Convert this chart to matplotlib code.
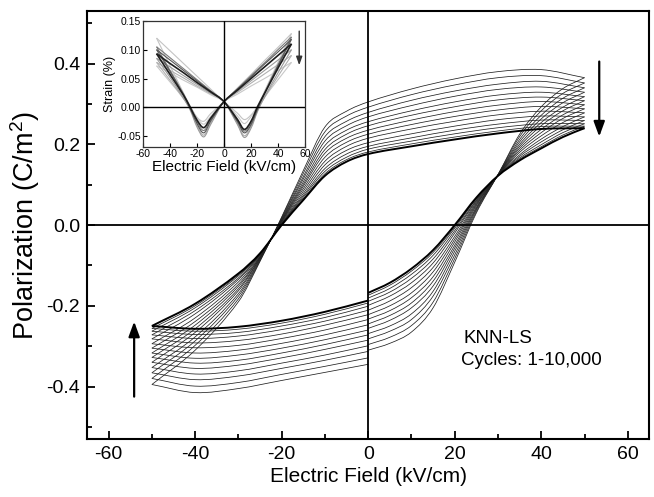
import numpy as np
import matplotlib
matplotlib.use('Agg')
import matplotlib.pyplot as plt
from matplotlib.path import Path
from matplotlib.patches import PathPatch
from matplotlib.ticker import MultipleLocator, FormatStrFormatter

plt.rcParams['font.family'] = ['Liberation Sans', 'DejaVu Sans']
plt.rcParams['axes.unicode_minus'] = False
plt.rcParams['mathtext.fontset'] = 'custom'
plt.rcParams['mathtext.rm'] = 'Liberation Sans'

# P-E loops, cycle 1 (outermost) to cycle 10,000 (innermost)
# upper branch, field going down from +50 to -50 kV/cm
e_upper = [50, 40, 30, 20, 10, 0, -5, -10, -15, -20, -25, -30, -40, -50]
p_upper = [
    [0.365, 0.385, 0.380, 0.362, 0.337, 0.305, 0.282, 0.243, 0.135, 0.020, -0.090, -0.190, -0.310, -0.395],
    [0.352, 0.370, 0.365, 0.347, 0.323, 0.292, 0.270, 0.231, 0.128, 0.018, -0.088, -0.183, -0.298, -0.380],
    [0.340, 0.356, 0.349, 0.332, 0.309, 0.279, 0.257, 0.219, 0.120, 0.016, -0.086, -0.176, -0.287, -0.366],
    [0.329, 0.342, 0.336, 0.319, 0.296, 0.268, 0.246, 0.208, 0.114, 0.014, -0.084, -0.170, -0.277, -0.353],
    [0.318, 0.329, 0.322, 0.305, 0.283, 0.256, 0.235, 0.197, 0.107, 0.012, -0.082, -0.163, -0.266, -0.340],
    [0.308, 0.317, 0.310, 0.293, 0.272, 0.246, 0.225, 0.187, 0.101, 0.011, -0.081, -0.158, -0.257, -0.328],
    [0.298, 0.306, 0.297, 0.281, 0.260, 0.235, 0.215, 0.178, 0.096, 0.009, -0.079, -0.152, -0.248, -0.317],
    [0.288, 0.294, 0.285, 0.269, 0.249, 0.225, 0.205, 0.168, 0.090, 0.008, -0.078, -0.147, -0.239, -0.305],
    [0.278, 0.282, 0.273, 0.257, 0.238, 0.215, 0.195, 0.158, 0.084, 0.006, -0.076, -0.141, -0.230, -0.294],
    [0.268, 0.270, 0.261, 0.245, 0.226, 0.204, 0.185, 0.149, 0.078, 0.004, -0.074, -0.135, -0.220, -0.282],
    [0.259, 0.260, 0.250, 0.235, 0.216, 0.195, 0.176, 0.140, 0.073, 0.003, -0.073, -0.131, -0.212, -0.272],
    [0.251, 0.251, 0.241, 0.226, 0.208, 0.188, 0.168, 0.133, 0.069, 0.002, -0.072, -0.126, -0.205, -0.263],
    [0.245, 0.244, 0.233, 0.218, 0.201, 0.181, 0.162, 0.127, 0.065, 0.001, -0.071, -0.123, -0.200, -0.256],
    [0.240, 0.238, 0.227, 0.212, 0.195, 0.176, 0.157, 0.122, 0.062, 0.000, -0.070, -0.120, -0.195, -0.250],
]
# lower branch, -50 up to 0 (end of each cycle)
e_lower_left = [-50, -40, -30, -20, -10, 0]
p_lower_left = [
    [-0.395, -0.415, -0.405, -0.385, -0.365, -0.345],
    [-0.380, -0.399, -0.390, -0.370, -0.350, -0.329],
    [-0.366, -0.383, -0.374, -0.355, -0.335, -0.313],
    [-0.353, -0.369, -0.361, -0.342, -0.322, -0.299],
    [-0.340, -0.355, -0.347, -0.329, -0.308, -0.285],
    [-0.328, -0.342, -0.335, -0.317, -0.296, -0.272],
    [-0.317, -0.330, -0.322, -0.305, -0.284, -0.260],
    [-0.305, -0.317, -0.310, -0.293, -0.272, -0.247],
    [-0.294, -0.304, -0.298, -0.281, -0.260, -0.234],
    [-0.282, -0.292, -0.286, -0.270, -0.248, -0.222],
    [-0.272, -0.281, -0.275, -0.259, -0.238, -0.211],
    [-0.263, -0.271, -0.266, -0.250, -0.229, -0.201],
    [-0.256, -0.263, -0.258, -0.243, -0.221, -0.193],
    [-0.250, -0.257, -0.252, -0.237, -0.215, -0.187],
]
# lower branch, 0 up to +50 (start of each cycle)
e_lower_right = [0, 5, 10, 15, 20, 25, 30, 35, 40, 45, 50]
p_lower_right = [
    [-0.310, -0.293, -0.265, -0.205, -0.092, 0.030, 0.125, 0.225, 0.293, 0.338, 0.365],
    [-0.296, -0.278, -0.249, -0.191, -0.083, 0.034, 0.125, 0.219, 0.283, 0.326, 0.352],
    [-0.282, -0.263, -0.234, -0.176, -0.074, 0.038, 0.124, 0.212, 0.272, 0.314, 0.340],
    [-0.269, -0.250, -0.220, -0.164, -0.065, 0.041, 0.124, 0.206, 0.263, 0.303, 0.329],
    [-0.256, -0.236, -0.205, -0.151, -0.057, 0.044, 0.124, 0.200, 0.254, 0.292, 0.318],
    [-0.245, -0.224, -0.193, -0.139, -0.050, 0.048, 0.124, 0.195, 0.246, 0.283, 0.308],
    [-0.233, -0.212, -0.180, -0.128, -0.042, 0.051, 0.123, 0.190, 0.237, 0.273, 0.298],
    [-0.222, -0.200, -0.168, -0.116, -0.035, 0.054, 0.123, 0.185, 0.229, 0.264, 0.288],
    [-0.211, -0.188, -0.155, -0.105, -0.028, 0.057, 0.123, 0.180, 0.221, 0.254, 0.278],
    [-0.199, -0.176, -0.143, -0.094, -0.020, 0.060, 0.123, 0.174, 0.213, 0.244, 0.268],
    [-0.189, -0.166, -0.132, -0.084, -0.014, 0.062, 0.122, 0.170, 0.206, 0.236, 0.259],
    [-0.181, -0.157, -0.122, -0.075, -0.008, 0.065, 0.122, 0.166, 0.199, 0.229, 0.251],
    [-0.174, -0.149, -0.114, -0.068, -0.004, 0.067, 0.122, 0.163, 0.194, 0.223, 0.245],
    [-0.168, -0.143, -0.108, -0.062, 0.000, 0.068, 0.122, 0.160, 0.190, 0.218, 0.240],
]

# inset: strain butterfly loops
e_rise = [-50, -40, -30, -20, -10, 0, 10, 15, 20, 25, 30, 40, 50]
e_fall = [50, 40, 30, 20, 10, 0, -10, -15, -20, -25, -30, -40, -50]
s_rise = [
    [0.120, 0.098, 0.076, 0.054, 0.032, 0.010, -0.010, -0.021, -0.013, 0.003, 0.028, 0.078, 0.128],
    [0.072, 0.060, 0.047, 0.035, 0.022, 0.010, -0.015, -0.028, -0.016, 0.002, 0.018, 0.048, 0.078],
    [0.078, 0.064, 0.051, 0.037, 0.024, 0.010, -0.028, -0.049, -0.033, -0.004, 0.017, 0.054, 0.090],
    [0.085, 0.070, 0.055, 0.040, 0.025, 0.010, -0.030, -0.052, -0.036, -0.006, 0.018, 0.060, 0.100],
    [0.105, 0.086, 0.067, 0.048, 0.029, 0.010, -0.023, -0.041, -0.027, 0.000, 0.025, 0.074, 0.122],
    [0.100, 0.082, 0.064, 0.046, 0.028, 0.010, -0.025, -0.044, -0.030, -0.002, 0.024, 0.072, 0.118],
    [0.093, 0.076, 0.060, 0.043, 0.027, 0.010, -0.021, -0.038, -0.024, 0.002, 0.024, 0.068, 0.110],
]
s_fall = [
    [0.128, 0.104, 0.081, 0.057, 0.034, 0.010, -0.011, -0.024, -0.017, 0.002, 0.025, 0.072, 0.120],
    [0.078, 0.064, 0.050, 0.037, 0.023, 0.010, -0.016, -0.029, -0.018, 0.001, 0.016, 0.044, 0.072],
    [0.090, 0.074, 0.058, 0.042, 0.026, 0.010, -0.027, -0.048, -0.031, -0.003, 0.015, 0.047, 0.078],
    [0.100, 0.082, 0.064, 0.046, 0.028, 0.010, -0.030, -0.051, -0.034, -0.005, 0.016, 0.052, 0.085],
    [0.122, 0.100, 0.077, 0.055, 0.032, 0.010, -0.022, -0.040, -0.025, 0.000, 0.023, 0.064, 0.105],
    [0.118, 0.096, 0.075, 0.053, 0.032, 0.010, -0.024, -0.044, -0.028, -0.002, 0.022, 0.062, 0.100],
    [0.110, 0.090, 0.070, 0.050, 0.030, 0.010, -0.019, -0.035, -0.022, 0.000, 0.021, 0.057, 0.093],
]
inset_colors = ['#c4c4c4', '#c8c8c8', '#b0b0b0', '#9a9a9a', '#7a7a7a', '#555555', '#1e1e1e']


def smooth_curve(ax, xs, ys, **kw):
    # cubic Bezier through the read points, drawn in data coordinates
    xs = np.asarray(xs, float)
    ys = np.asarray(ys, float)
    n = len(xs)
    m = np.empty(n)
    m[1:-1] = (ys[2:] - ys[:-2]) / (xs[2:] - xs[:-2])
    m[0] = (ys[1] - ys[0]) / (xs[1] - xs[0])
    m[-1] = (ys[-1] - ys[-2]) / (xs[-1] - xs[-2])
    verts = [(xs[0], ys[0])]
    codes = [Path.MOVETO]
    for i in range(n - 1):
        h = xs[i + 1] - xs[i]
        verts += [(xs[i] + h / 3, ys[i] + m[i] * h / 3),
                  (xs[i + 1] - h / 3, ys[i + 1] - m[i + 1] * h / 3),
                  (xs[i + 1], ys[i + 1])]
        codes += [Path.CURVE4] * 3
    ax.add_patch(PathPatch(Path(verts, codes), fill=False, **kw))


fig = plt.figure(figsize=(6.54, 4.97), dpi=100)
ax = fig.add_axes([0.133, 0.1167, 0.860, 0.861])

n_loops = len(p_upper)
for k in range(n_loops):
    lw = 1.4 if k == n_loops - 1 else 0.55
    col = 'black' if k == n_loops - 1 else '#202020'
    smooth_curve(ax, e_upper, p_upper[k], lw=lw, edgecolor=col)
    smooth_curve(ax, e_lower_left, p_lower_left[k], lw=lw, edgecolor=col)
    smooth_curve(ax, e_lower_right, p_lower_right[k], lw=lw, edgecolor=col)

ax.axhline(0, color='black', lw=1.3, zorder=3)
ax.axvline(0, color='black', lw=1.3, zorder=3)

ax.set_xlim(-65, 65)
ax.set_ylim(-0.53, 0.53)
ax.xaxis.set_major_locator(MultipleLocator(20))
ax.xaxis.set_minor_locator(MultipleLocator(10))
ax.yaxis.set_major_locator(MultipleLocator(0.2))
ax.yaxis.set_minor_locator(MultipleLocator(0.1))
ax.yaxis.set_major_formatter(FormatStrFormatter('%.1f'))
ax.tick_params(which='both', direction='in', labelsize=14, width=1.3)
ax.tick_params(which='major', length=6, pad=5)
ax.tick_params(which='minor', length=3.5)
for s in ax.spines.values():
    s.set_linewidth(1.5)
ax.set_xlabel('Electric Field (kV/cm)', fontsize=15, labelpad=3)
ax.set_ylabel('Polarization (C/m$^2$)', fontsize=19.5, labelpad=3)

ax.annotate('', xy=(53.4, 0.219), xytext=(53.4, 0.405),
            arrowprops=dict(arrowstyle='-|>,head_length=0.6,head_width=0.22',
                            color='black', lw=1.6, mutation_scale=15,
                            shrinkA=0, shrinkB=0))
ax.annotate('', xy=(-54.1, -0.239), xytext=(-54.1, -0.425),
            arrowprops=dict(arrowstyle='-|>,head_length=0.6,head_width=0.22',
                            color='black', lw=1.6, mutation_scale=15,
                            shrinkA=0, shrinkB=0))
ax.text(22, -0.281, 'KNN-LS', fontsize=13.5, va='center')
ax.text(21.5, -0.335, 'Cycles: 1-10,000', fontsize=13.5, va='center')

# inset
axi = fig.add_axes([0.2187, 0.7048, 0.2477, 0.2535])
for k in range(len(s_rise)):
    lw = 1.2 if k == len(s_rise) - 1 else 0.8
    smooth_curve(axi, e_rise, s_rise[k], lw=lw, edgecolor=inset_colors[k])
    smooth_curve(axi, e_fall, s_fall[k], lw=lw, edgecolor=inset_colors[k])
axi.axhline(0, color='black', lw=1.0, zorder=3)
axi.axvline(0, color='black', lw=1.0, zorder=3)
axi.set_xlim(-60, 60)
axi.set_ylim(-0.068, 0.15)
axi.xaxis.set_major_locator(MultipleLocator(20))
axi.yaxis.set_major_locator(MultipleLocator(0.05))
axi.yaxis.set_major_formatter(FormatStrFormatter('%.2f'))
axi.tick_params(direction='in', labelsize=7.5, length=3, width=0.8, pad=1.5)
for s in axi.spines.values():
    s.set_linewidth(0.9)
    s.set_color('#333333')
axi.set_xlabel('Electric Field (kV/cm)', fontsize=11, labelpad=1)
axi.set_ylabel('Strain (%)', fontsize=9, labelpad=1)
axi.annotate('', xy=(55.7, 0.073), xytext=(55.7, 0.132),
             arrowprops=dict(arrowstyle='-|>,head_length=0.5,head_width=0.18',
                             color='#333333', lw=1.0, mutation_scale=10,
                             shrinkA=0, shrinkB=0))

fig.savefig('out.png', dpi=100)
